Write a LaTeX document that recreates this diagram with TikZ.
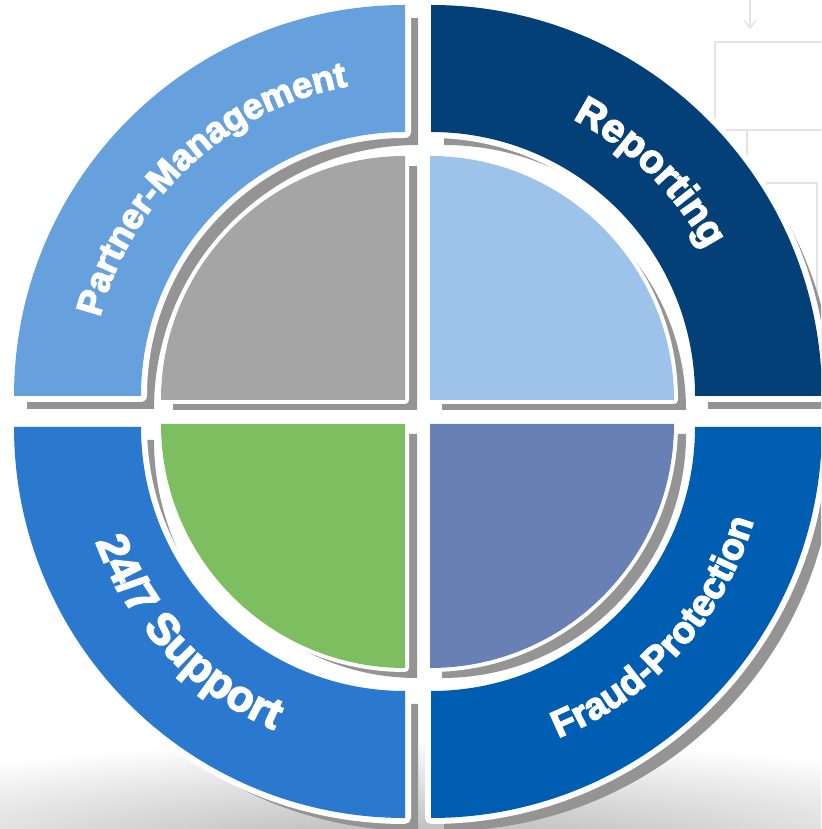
\documentclass[tikz,border=0pt]{standalone}
\usepackage{fontspec}
\setmainfont{Liberation Sans}
\newfontfamily\labfont[BoldFeatures={FakeBold=3.5}]{Liberation Sans}
\usetikzlibrary{decorations.text}
\definecolor{ringTL}{RGB}{102,161,222}
\definecolor{ringTR}{RGB}{3,64,120}
\definecolor{ringBL}{RGB}{42,121,207}
\definecolor{ringBR}{RGB}{0,94,178}
\definecolor{discTL}{RGB}{165,165,165}
\definecolor{discTR}{RGB}{157,195,235}
\definecolor{discBL}{RGB}{125,191,96}
\definecolor{discBR}{RGB}{105,128,181}
\definecolor{shadowgray}{RGB}{148,148,148}
\definecolor{sketchgray}{RGB}{228,228,228}
% ring segment: centre x, centre y, start angle, options
\newcommand\ringseg[4]{\path[shift={(#1,#2)},#4] (#3:264) -- (#3:391) arc[start angle=#3, delta angle=90, radius=391] -- ({#3+90}:264) arc[start angle={#3+90}, delta angle=-90, radius=264] -- cycle;}
% inner quarter disc: centre x, centre y, start angle, options
\newcommand\discseg[4]{\path[shift={(#1,#2)},#4] (0,0) -- (#3:244) arc[start angle=#3, delta angle=90, radius=244] -- cycle;}
\tikzset{
  outline/.style={draw=white, line width=#1, line join=round},
  sketch/.style={draw=sketchgray, line width=1.3},
  labeltext/.style={decorate, decoration={text along path, text align=center, text color=white, text={#1}}}
}
\begin{document}
\begin{tikzpicture}[x=1pt,y=1pt]
\useasboundingbox (0,0) rectangle (821,829);
\clip (0,0) rectangle (821,829);
\fill[white] (0,0) rectangle (821,829);
% floor shadow
\shade[inner color=black!30, outer color=white] (418,-20) ellipse [x radius=700, y radius=110];
% faint background sketch
\draw[sketch] (750,829) -- (750,801);
\draw[sketch] (744,809) -- (750,801) -- (756,809);
\draw[sketch] (715,787) -- (830,787);
\draw[sketch] (715,787) -- (715,699) -- (830,699);
\draw[sketch] (747,699) -- (747,655);
\draw[sketch] (741,663) -- (747,655) -- (753,663);
\draw[sketch] (767,500) -- (767,646) -- (817,646) -- (817,520);
% shadows
\ringseg{418}{420}{90}{fill=shadowgray}
\ringseg{444}{420}{0}{fill=shadowgray}
\ringseg{418}{389}{180}{fill=shadowgray}
\ringseg{444}{389}{270}{fill=shadowgray}
% rings
\ringseg{405}{433}{90}{outline=12}
\ringseg{405}{433}{90}{fill=ringTL}
\ringseg{431}{433}{0}{outline=12}
\ringseg{431}{433}{0}{fill=ringTR}
\ringseg{405}{402}{180}{outline=12}
\ringseg{405}{402}{180}{fill=ringBL}
\ringseg{431}{402}{270}{outline=12}
\ringseg{431}{402}{270}{fill=ringBR}
% inner shadows
\discseg{417}{419}{90}{fill=shadowgray}
\discseg{442}{419}{0}{fill=shadowgray}
\discseg{417}{395}{180}{fill=shadowgray}
\discseg{442}{395}{270}{fill=shadowgray}
% inner discs
\discseg{405}{429}{90}{outline=8}
\discseg{405}{429}{90}{fill=discTL}
\discseg{430}{429}{0}{outline=8}
\discseg{430}{429}{0}{fill=discTR}
\discseg{405}{405}{180}{outline=8}
\discseg{405}{405}{180}{fill=discBL}
\discseg{430}{405}{270}{outline=8}
\discseg{430}{405}{270}{fill=discBR}
% labels
\path[labeltext={|\labfont\fontsize{36}{36}\selectfont\bfseries|Partner-Management}] (405,433) ++(168:315) arc[start angle=168, end angle=98, radius=315];
\path[labeltext={|\labfont\fontsize{40}{40}\selectfont\bfseries|Reporting}] (431,433) ++(80:311) arc[start angle=80, end angle=11, radius=311];
\path[labeltext={|\labfont\fontsize{37.5}{37.5}\selectfont\bfseries|Fraud-Protection}] (431,402) ++(-80:336) arc[start angle=-80, end angle=-4, radius=336];
\path[labeltext={|\labfont\fontsize{44}{44}\selectfont\bfseries|24/7 Support}] (405,402) ++(185:330) arc[start angle=185, end angle=262, radius=330];
\end{tikzpicture}
\end{document}
